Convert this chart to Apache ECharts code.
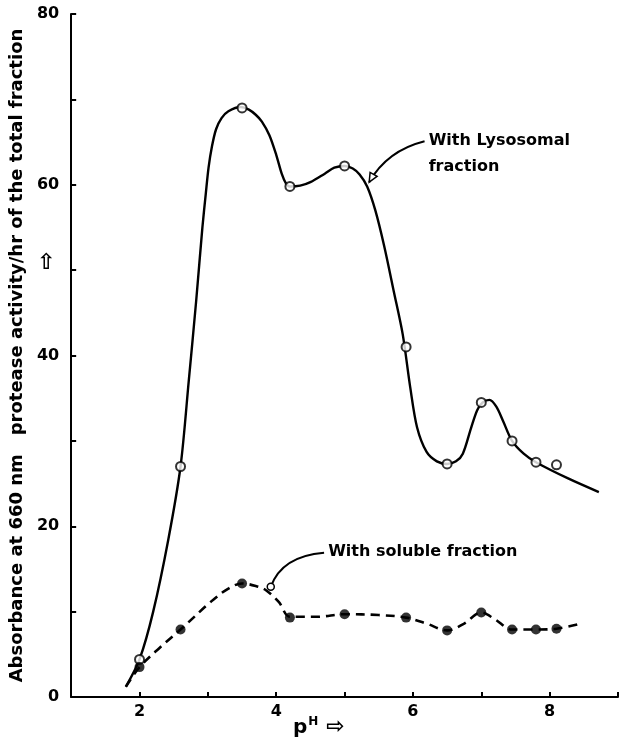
<!DOCTYPE html>
<html><head><meta charset="utf-8">
<script src="https://cdn.jsdelivr.net/npm/echarts@6/dist/echarts.min.js"></script>
<style>html,body{margin:0;padding:0;background:#fff}#c{width:621px;height:745px}</style>
</head><body><div id="c"></div>
<script>
// measured points (pH)
const pH = [2.0, 2.6, 3.5, 4.2, 5.0, 5.9, 6.5, 7.0, 7.45, 7.8, 8.1];
const lysosomal = [4.4, 27, 69, 59.8, 62.2, 41, 27.3, 34.5, 30, 27.5, 27.2];
const soluble = [3.5, 7.9, 13.3, 9.3, 9.7, 9.3, 7.8, 9.9, 7.9, 7.9, 8.0];
// hand-drawn fitted curves
const lysoCurveX = [1.8, 2.0, 2.2, 2.42, 2.6, 2.72, 2.83, 2.92, 2.97, 3.01, 3.06, 3.12, 3.2, 3.3, 3.48, 3.6, 3.7, 3.79, 3.9, 4.0, 4.08, 4.14, 4.2, 4.35, 4.5, 4.71, 4.85, 5.0, 5.12, 5.22, 5.33, 5.45, 5.58, 5.72, 5.85, 5.96, 6.06, 6.2, 6.35, 6.5, 6.63, 6.73, 6.85, 6.94, 7.02, 7.12, 7.22, 7.32, 7.45, 7.62, 7.8, 8.27, 8.72];
const lysoCurveY = [1.2, 4.4, 10, 18.4, 27, 37, 46.5, 55, 59, 62, 64.5, 66.5, 67.8, 68.6, 69.1, 68.8, 68.2, 67.4, 65.8, 63.5, 61.3, 60.2, 59.8, 59.9, 60.3, 61.3, 62.0, 62.2, 61.9, 61.2, 59.8, 57.0, 52.8, 47.5, 42.5, 36.3, 31.6, 28.7, 27.6, 27.3, 27.6, 28.5, 31.5, 33.6, 34.5, 34.8, 34.0, 32.3, 30, 28.5, 27.5, 25.6, 24.0];
const solCurveX = [1.8, 2.0, 2.3, 2.6, 3.05, 3.3, 3.5, 3.7, 3.85, 4.04, 4.2, 4.6, 5.0, 5.5, 5.9, 6.2, 6.5, 6.75, 7.0, 7.2, 7.45, 7.8, 8.1, 8.46];
const solCurveY = [1.2, 3.5, 5.8, 7.9, 11.2, 12.7, 13.3, 13.0, 12.5, 11.1, 9.4, 9.4, 9.7, 9.6, 9.3, 8.6, 7.8, 8.6, 9.9, 9.1, 7.9, 7.9, 8.0, 8.6];
// axis ticks
const xTickLabels = [2, 4, 6, 8];
const yTickLabels = [0, 20, 40, 60, 80];
// annotation anchors (data coordinates)
const lysoLabel = ['With Lysosomal', 'fraction'];
const lysoArrow = [[6.17, 65.1], [5.62, 64.0], [5.36, 60.3]];
const lysoTextAt = [[6.23, 65.1], [6.23, 62.1]];
const solLabel = 'With soluble fraction';
const solArrow = [[4.70, 16.9], [4.08, 16.5], [3.92, 12.9]];
const solTextAt = [4.76, 17.0];

const zip = (a, b) => a.map((v, i) => [v, b[i]]);
const FONT = 'DejaVu Sans';
const chart = echarts.init(document.getElementById('c'));
chart.setOption({
  animation: false,
  grid: { left: 70, right: 0, top: 14, bottom: 48 },
  xAxis: {
    type: 'value', min: 1, max: 9, interval: 1,
    axisLine: { lineStyle: { color: '#000', width: 2 } },
    axisTick: { inside: true, length: 5, lineStyle: { color: '#000', width: 2 } },
    axisLabel: { formatter: v => xTickLabels.includes(v) ? String(v) : '', color: '#000', fontSize: 16, fontWeight: 'bold', fontFamily: FONT, margin: 7 },
    splitLine: { show: false }
  },
  yAxis: {
    type: 'value', min: 0, max: 80, interval: 10,
    name: 'Absorbance at 660 nm   protease activity/hr of the total fraction',
    nameLocation: 'middle', nameGap: 39, nameRotate: 90,
    nameTextStyle: { color: '#000', fontSize: 18, fontWeight: 'bold', fontFamily: FONT },
    axisLine: { show: true, lineStyle: { color: '#000', width: 2 } },
    axisTick: { show: true, inside: true, length: 5, lineStyle: { color: '#000', width: 2 } },
    axisLabel: { formatter: v => yTickLabels.includes(v) ? String(v) : '', color: '#000', fontSize: 16, fontWeight: 'bold', fontFamily: FONT, margin: 12 },
    splitLine: { show: false }
  },
  series: [
    { type: 'line', data: zip(lysoCurveX, lysoCurveY), smooth: 0.3, showSymbol: false, silent: true,
      lineStyle: { color: '#000', width: 2.4 }, z: 2 },
    { type: 'line', data: zip(solCurveX, solCurveY), smooth: 0.35, showSymbol: false, silent: true,
      lineStyle: { color: '#000', width: 2.6, type: [9, 6] }, z: 2 },
    { type: 'scatter', data: zip(pH, lysosomal), symbol: 'circle', symbolSize: 9,
      itemStyle: { color: '#fff', borderColor: '#000', borderWidth: 2 }, z: 4 },
    { type: 'scatter', data: zip(pH, soluble), symbol: 'circle', symbolSize: 10,
      itemStyle: { color: '#000' }, z: 4 }
  ]
});

function px(p) { return chart.convertToPixel({ gridIndex: 0 }, p); }
const la = lysoArrow.map(px), sa = solArrow.map(px);
const lt = lysoTextAt.map(px), st = px(solTextAt);
const txt = (s, p) => ({ type: 'text', x: p[0], y: p[1], style: { text: s, fill: '#000', font: 'bold 16px "DejaVu Sans"', textVerticalAlign: 'middle' } });
const dx = la[2][0] - la[1][0], dy = la[2][1] - la[1][1], L = Math.hypot(dx, dy);
const ux = dx / L, uy = dy / L;
const tip = la[2];
const head = [tip, [tip[0] - 9 * ux - 4 * uy, tip[1] - 9 * uy + 4 * ux], [tip[0] - 9 * ux + 4 * uy, tip[1] - 9 * uy - 4 * ux]];
chart.setOption({
  graphic: [
    { type: 'bezierCurve', shape: { x1: la[0][0], y1: la[0][1], cpx1: la[1][0], cpy1: la[1][1], x2: la[2][0], y2: la[2][1] }, style: { stroke: '#000', lineWidth: 2, fill: null } },
    { type: 'polygon', shape: { points: head }, style: { fill: '#fff', stroke: '#000', lineWidth: 1.5 } },
    txt(lysoLabel[0], lt[0]), txt(lysoLabel[1], lt[1]),
    { type: 'bezierCurve', shape: { x1: sa[0][0], y1: sa[0][1], cpx1: sa[1][0], cpy1: sa[1][1], x2: sa[2][0], y2: sa[2][1] }, style: { stroke: '#000', lineWidth: 2, fill: null } },
    { type: 'circle', shape: { cx: sa[2][0], cy: sa[2][1], r: 3.5 }, style: { fill: '#fff', stroke: '#000', lineWidth: 1.5 }, z: 10 },
    txt(solLabel, st),
    { type: 'text', left: 37, top: 252, style: { text: '\u21E7', fill: '#000', font: 'bold 22px "DejaVu Sans"' } },
    { type: 'text', left: 293, top: 716, style: {
        text: '{p|p}{h|H}{a| \u21E8}', rich: {
          p: { font: 'bold 20px "DejaVu Sans"', fill: '#000', verticalAlign: 'bottom' },
          h: { font: 'bold 12px "DejaVu Sans"', fill: '#000', verticalAlign: 'top', padding: [0, 0, 8, 1] },
          a: { font: 'bold 22px "DejaVu Sans"', fill: '#000', verticalAlign: 'bottom' }
        } } }
  ]
});
</script></body></html>
